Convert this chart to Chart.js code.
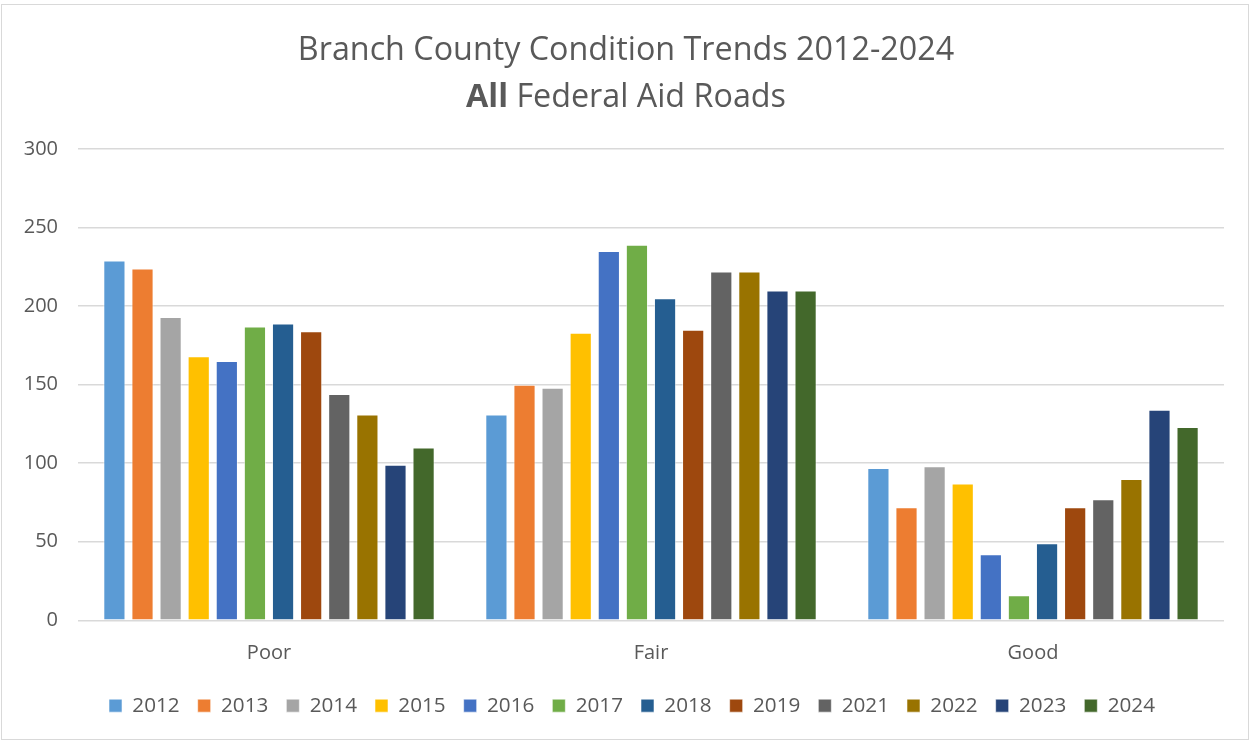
<!DOCTYPE html>
<html>
<head>
<meta charset="utf-8">
<script src="https://cdn.jsdelivr.net/npm/chart.js@4"></script>
<style>
  html, body { margin: 0; padding: 0; background: #fff; }
  #frame {
    position: absolute; left: 1px; top: 4px; width: 1248px; height: 736px;
    border: 1px solid #d9d9d9; box-sizing: border-box;
  }
  #title {
    position: absolute; left: 0; top: 24px; width: 1252px; text-align: center;
    font-family: "Open Sans", "Noto Sans", sans-serif; font-size: 32.3px; color: #595959;
    line-height: 47px;
  }
  #title b { font-weight: 700; }
  #wrap { position: absolute; left: 0; top: 0; width: 1252px; height: 743px; }
</style>
</head>
<body>
<div id="frame"></div>
<div id="wrap"><canvas id="chart"></canvas></div>
<div id="title">Branch County Condition Trends 2012-2024<br><b>All</b> Federal Aid Roads</div>
<script>
// road condition buckets and survey years
const categories = ['Poor', 'Fair', 'Good'];
const years = ['2012', '2013', '2014', '2015', '2016', '2017', '2018', '2019', '2021', '2022', '2023', '2024'];

// miles per condition, one array per year: [Poor, Fair, Good]
const v2012 = [229, 131, 97];
const v2013 = [224, 150, 72];
const v2014 = [193, 148, 98];
const v2015 = [168, 183, 87];
const v2016 = [165, 235, 42];
const v2017 = [187, 239, 16];
const v2018 = [189, 205, 49];
const v2019 = [184, 185, 72];
const v2021 = [144, 222, 77];
const v2022 = [131, 222, 90];
const v2023 = [99, 210, 134];
const v2024 = [110, 210, 123];

const yTicks = [0, 50, 100, 150, 200, 250, 300];

const series = [v2012, v2013, v2014, v2015, v2016, v2017, v2018, v2019, v2021, v2022, v2023, v2024];
const colors = ['#5B9BD5', '#ED7D31', '#A5A5A5', '#FFC000', '#4472C4', '#70AD47',
                '#255E91', '#9E480E', '#636363', '#997300', '#264478', '#43682B'];

const FONT = '"Open Sans", "Noto Sans", sans-serif';

new Chart(document.getElementById('chart'), {
  type: 'bar',
  data: {
    labels: categories,
    datasets: years.map((y, i) => ({
      label: y,
      data: series[i],
      backgroundColor: colors[i],
      borderColor: 'rgba(255,255,255,0.55)',
      borderWidth: 1,
      categoryPercentage: 0.883,
      barPercentage: 0.79
    }))
  },
  options: {
    responsive: true,
    maintainAspectRatio: false,
    animation: false,
    layout: { padding: { top: 149, right: 0, left: 12, bottom: 17 } },
    plugins: {
      title: { display: false },
      tooltip: { enabled: false },
      legend: {
        position: 'bottom',
        labels: {
          boxWidth: 13, boxHeight: 13, padding: 18,
          color: '#595959',
          font: { family: FONT, size: 20.7 }
        }
      }
    },
    scales: {
      x: {
        grid: { display: false },
        border: { display: false },
        ticks: { color: '#595959', font: { family: FONT, size: 20 }, padding: 13 },
        afterFit: s => { s.height = 57; }
      },
      y: {
        min: 0, max: 300,
        afterBuildTicks: s => { s.ticks = yTicks.map(v => ({ value: v })); },
        grid: { color: '#d9d9d9', lineWidth: 1.5, drawTicks: false },
        border: { display: false },
        ticks: { color: '#595959', font: { family: FONT, size: 20 }, padding: 20 },
        afterFit: s => { s.width = 66; }
      },
      // empty right-hand gutter so the plot stops short of the frame
      gutter: {
        position: 'right',
        min: 0, max: 300,
        grid: { display: false },
        border: { display: false },
        ticks: { display: false },
        afterFit: s => { s.width = 28; }
      }
    }
  }
});
</script>
</body>
</html>
